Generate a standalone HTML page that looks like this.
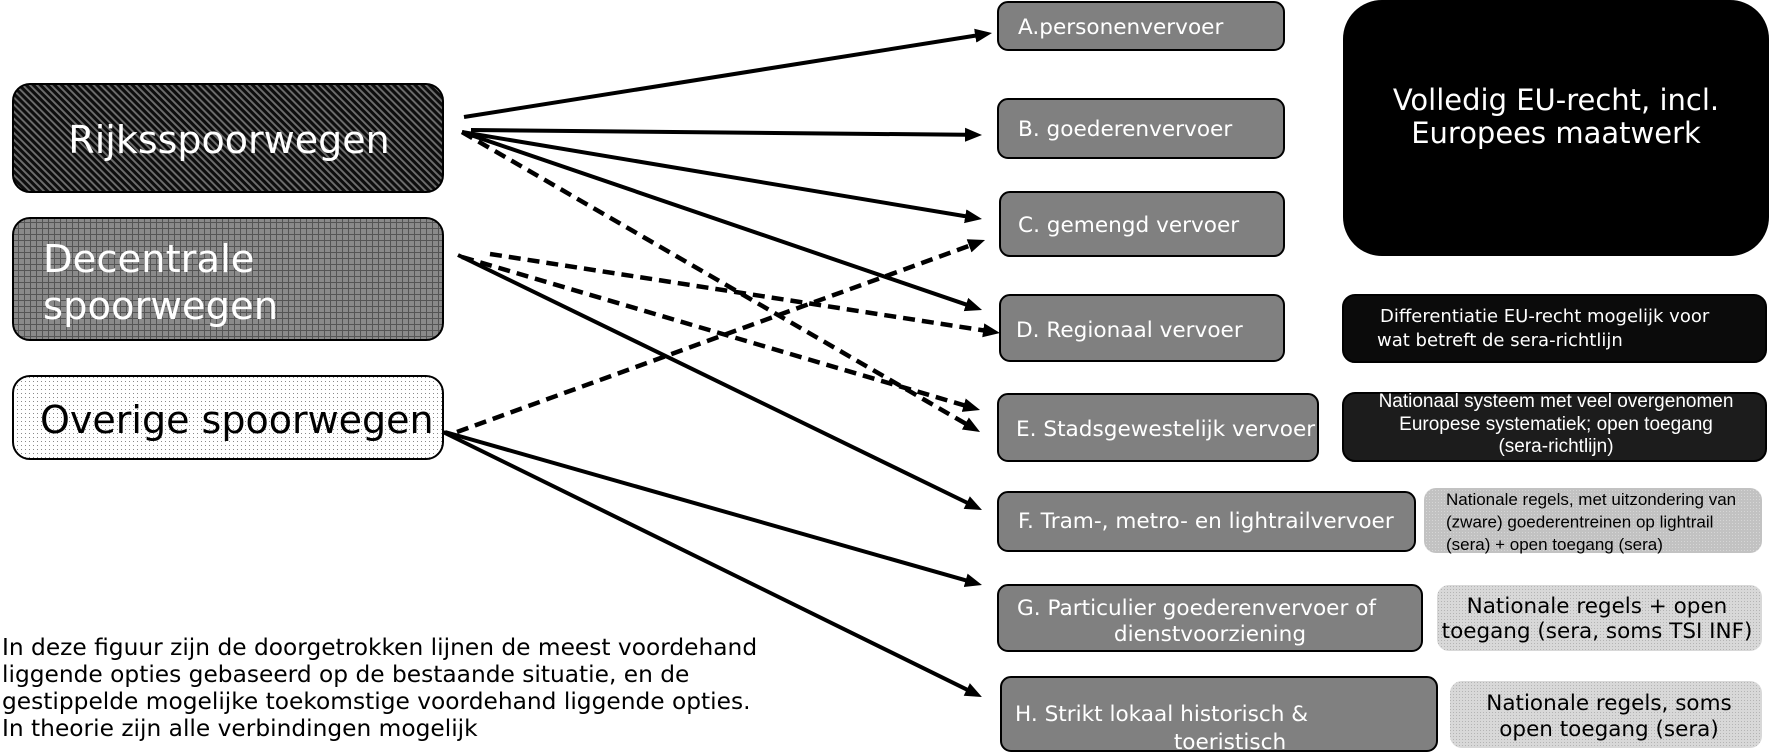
<!DOCTYPE html>
<html><head><meta charset="utf-8"><style>
html,body{margin:0;padding:0;background:#fff;}
svg{display:block;}
.v{font-family:"DejaVu Sans","Liberation Sans",sans-serif;}
.a{font-family:"Liberation Sans","DejaVu Sans",sans-serif;}
</style></head><body>
<svg width="1772" height="753" viewBox="0 0 1772 753" xmlns="http://www.w3.org/2000/svg">
<defs>
<pattern id="hatch" width="5" height="5" patternUnits="userSpaceOnUse" patternTransform="rotate(-45)">
<rect width="5" height="5" fill="#0d0d0d"/><rect x="0" y="0" width="1.9" height="5" fill="#6e6e6e"/>
</pattern>
<pattern id="grid" width="6" height="6" patternUnits="userSpaceOnUse">
<rect width="6" height="6" fill="#8a8a8a"/><path d="M0 0.5H6M0.5 0V6" stroke="#555" stroke-width="1"/>
</pattern>
<pattern id="dots" width="4" height="4" patternUnits="userSpaceOnUse">
<rect width="4" height="4" fill="#fff"/><rect x="1" y="1" width="1" height="1" fill="#8a8a8a"/>
</pattern>
<pattern id="ldots" width="3" height="3" patternUnits="userSpaceOnUse">
<rect width="3" height="3" fill="#c2c2c2"/><rect x="1" y="1" width="1" height="1" fill="#d6d6d6"/>
</pattern>
<pattern id="ldots2" width="3" height="3" patternUnits="userSpaceOnUse">
<rect width="3" height="3" fill="#d8d8d8"/><rect x="1" y="1" width="1" height="1" fill="#b4b4b4"/>
</pattern>
<marker id="ah" markerUnits="userSpaceOnUse" markerWidth="18" markerHeight="16" refX="1" refY="8" orient="auto">
<path d="M0,1 L17,8 L0,15 z" fill="#000"/>
</marker>
</defs>

<!-- Left boxes -->
<rect x="13" y="84" width="430" height="108" rx="17" fill="url(#hatch)" stroke="#000" stroke-width="2"/>
<text class="v" x="229" y="153" font-size="38" fill="#fff" text-anchor="middle">Rijksspoorwegen</text>

<rect x="13" y="218" width="430" height="122" rx="17" fill="url(#grid)" stroke="#000" stroke-width="2"/>
<text class="v" x="43" y="272" font-size="38.5" fill="#fff">Decentrale</text>
<text class="v" x="43" y="319" font-size="38.5" fill="#fff">spoorwegen</text>

<rect x="13" y="376" width="430" height="83" rx="17" fill="url(#dots)" stroke="#000" stroke-width="2"/>
<text class="v" x="40" y="433" font-size="38" fill="#000">Overige spoorwegen</text>

<!-- Middle boxes -->
<g stroke="#000" stroke-width="2" fill="#808080">
<rect x="998" y="2" width="286" height="48" rx="10"/>
<rect x="998" y="99" width="286" height="59" rx="10"/>
<rect x="1000" y="192" width="284" height="64" rx="10"/>
<rect x="1000" y="295" width="284" height="66" rx="10"/>
<rect x="998" y="394" width="320" height="67" rx="10"/>
<rect x="998" y="492" width="417" height="59" rx="10"/>
<rect x="998" y="585" width="424" height="66" rx="10"/>
<rect x="1001" y="677" width="436" height="74" rx="10"/>
</g>
<g class="v" font-size="21.6" fill="#fff">
<text x="1018" y="34">A.personenvervoer</text>
<text x="1018" y="136">B. goederenvervoer</text>
<text x="1018" y="232">C. gemengd vervoer</text>
<text x="1016" y="337">D. Regionaal vervoer</text>
<text x="1016" y="436">E. Stadsgewestelijk vervoer</text>
<text x="1018" y="528">F. Tram-, metro- en lightrailvervoer</text>
<text x="1017" y="615">G. Particulier goederenvervoer of</text>
<text x="1210" y="641" text-anchor="middle">dienstvoorziening</text>
<text x="1015" y="721">H. Strikt lokaal historisch &amp;</text>
<text x="1230" y="749" text-anchor="middle">toeristisch</text>
</g>

<!-- Right boxes -->
<rect x="1344" y="1" width="424" height="254" rx="38" fill="#000" stroke="#000" stroke-width="2"/>
<text class="v" x="1556" y="110" font-size="29" fill="#fff" text-anchor="middle">Volledig EU-recht, incl.</text>
<text class="v" x="1556" y="143" font-size="29" fill="#fff" text-anchor="middle">Europees maatwerk</text>

<rect x="1343" y="295" width="423" height="67" rx="12" fill="#0b0b0b" stroke="#000" stroke-width="2"/>
<text class="v" x="1380" y="322" font-size="18" fill="#fff">Differentiatie EU-recht mogelijk voor</text>
<text class="v" x="1377" y="346" font-size="18" fill="#fff">wat betreft de sera-richtlijn</text>

<rect x="1343" y="393" width="423" height="68" rx="12" fill="#1c1c1c" stroke="#000" stroke-width="2"/>
<g class="a" font-size="19" fill="#fff" text-anchor="middle">
<text x="1556" y="407">Nationaal systeem met veel overgenomen</text>
<text x="1556" y="430">Europese systematiek; open toegang</text>
<text x="1556" y="452">(sera-richtlijn)</text>
</g>

<rect x="1424" y="488" width="338" height="65" rx="12" fill="url(#ldots)"/>
<g class="a" font-size="17" fill="#000">
<text x="1446" y="505">Nationale regels, met uitzondering van</text>
<text x="1446" y="527.5">(zware) goederentreinen op lightrail</text>
<text x="1446" y="550">(sera) + open toegang (sera)</text>
</g>

<rect x="1437" y="585" width="325" height="66" rx="12" fill="url(#ldots2)"/>
<g class="v" font-size="21.5" fill="#000" text-anchor="middle">
<text x="1597" y="613">Nationale regels + open</text>
<text x="1597" y="638">toegang (sera, soms TSI INF)</text>
</g>

<rect x="1450" y="681" width="312" height="67" rx="12" fill="url(#ldots2)"/>
<g class="v" font-size="21.5" fill="#000" text-anchor="middle">
<text x="1609" y="710">Nationale regels, soms</text>
<text x="1609" y="736">open toegang (sera)</text>
</g>

<!-- Connectors -->
<g stroke="#000" stroke-width="4" fill="none" marker-end="url(#ah)">
<line x1="464" y1="117" x2="976.2" y2="35.5"/>
<line x1="471" y1="130" x2="966" y2="134.8"/>
<line x1="462" y1="132" x2="966.2" y2="216.4"/>
<line x1="462" y1="132" x2="966.9" y2="304.8"/>
<line x1="458" y1="255" x2="967.6" y2="503"/>
<line x1="445" y1="432" x2="966.6" y2="580.6"/>
<line x1="443" y1="432" x2="967.6" y2="689.9"/>
</g>
<g stroke="#000" stroke-width="4.5" fill="none" stroke-dasharray="12 7" marker-end="url(#ah)">
<line x1="462" y1="132" x2="966.2" y2="424"/>
<line x1="490" y1="254" x2="984.2" y2="330.5"/>
<line x1="462" y1="257" x2="964.7" y2="405.5"/>
<line x1="457" y1="432" x2="970" y2="245.5"/>
</g>

<!-- Footnote -->
<g class="v" font-size="23.3" fill="#000">
<text x="2" y="655">In deze figuur zijn de doorgetrokken lijnen de meest voordehand</text>
<text x="2" y="682">liggende opties gebaseerd op de bestaande situatie, en de</text>
<text x="2" y="709">gestippelde mogelijke toekomstige voordehand liggende opties.</text>
<text x="2" y="736">In theorie zijn alle verbindingen mogelijk</text>
</g>
</svg>
</body></html>
